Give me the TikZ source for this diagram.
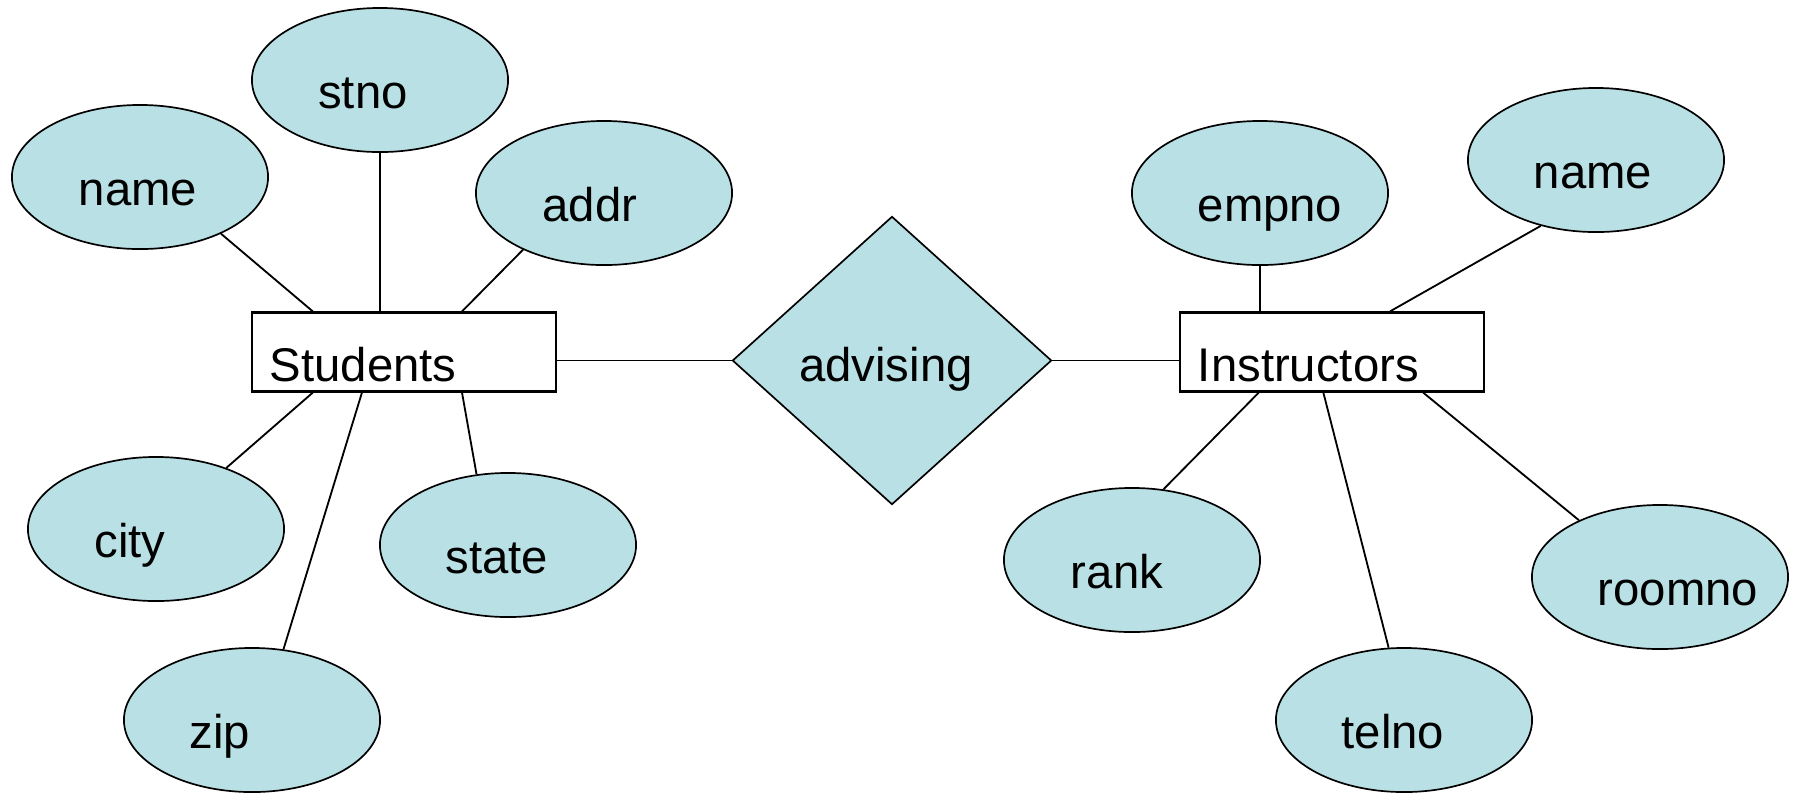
\documentclass[tikz,border=0pt]{standalone}
\usepackage{fontspec}
\setmainfont{Liberation Sans}
\usetikzlibrary{shapes.geometric}
\definecolor{erblue}{RGB}{185,224,228}
\begin{document}
\begin{tikzpicture}[x=0.01cm, y=-0.01cm,
    every node/.style={font=\fontsize{13.45pt}{16pt}\selectfont},
    nudge/.style={execute at begin node={\hspace*{#1}}, execute at end node={\hspace*{-#1}}},
    attr/.style={ellipse, draw, fill=erblue, line width=0.48pt, minimum width=2.56cm, minimum height=1.44cm,
      inner sep=0pt, text height=0.56cm, text depth=0pt, nudge=#1},
    attr/.default=0pt,
    entity/.style={draw, fill=white, line width=0.62pt, minimum width=3.04cm, minimum height=0.79cm,
      text width=2.68cm, align=left, inner xsep=0.18cm, inner ysep=0pt, text height=0.58cm, text depth=0pt},
    rel/.style={diamond, draw, fill=erblue, line width=0.48pt, minimum width=3.19cm, minimum height=2.88cm,
      inner sep=0pt, text height=0.42cm, text depth=0pt, nudge=#1},
    rel/.default=0pt]
  \useasboundingbox (0,0) rectangle (1796,793);
  \path
    (404,352) node[entity] (students){Students}
    (1332,352) node[entity] (instructors){Instructors}
    (892,360.5) node[rel=-0.06cm] (advising){advising}
    (140,177) node[attr=-0.02cm] (sname){name}
    (380,80) node[attr=-0.17cm] (stno){stno}
    (604,193) node[attr=-0.14cm] (addr){addr}
    (156,529) node[attr=-0.26cm] (city){city}
    (252,720) node[attr=-0.32cm] (zip){zip}
    (508,545) node[attr=-0.11cm] (state){state}
    (1260,193) node[attr=0.10cm] (empno){empno}
    (1596,160) node[attr=-0.03cm] (iname){name}
    (1132,560) node[attr=-0.15cm] (rank){rank}
    (1404,720) node[attr=-0.11cm] (telno){telno}
    (1660,577) node[attr=0.18cm] (roomno){roomno};
  \begin{scope}[-, line width=0.52pt]
    \draw (sname.-35) to (students.156);
    \draw (stno) to (stno |- students.north);
    \draw (addr.215) to (students.35);
    \draw (city.41) to (students.204);
    \draw (zip.66) to (students.224);
    \draw (state.114) to (students.325);
    \draw (advising.west -| students.east) to (advising.west);
    \draw (advising.east) to (advising.east -| instructors.west);
    \draw (empno) to (empno |- instructors.north);
    \draw (iname.230) to (instructors.35);
    \draw (rank.66) to (instructors.209);
    \draw (telno.102) to (instructors.258);
    \draw (roomno.145) to (instructors.336);
  \end{scope}
\end{tikzpicture}
\end{document}
